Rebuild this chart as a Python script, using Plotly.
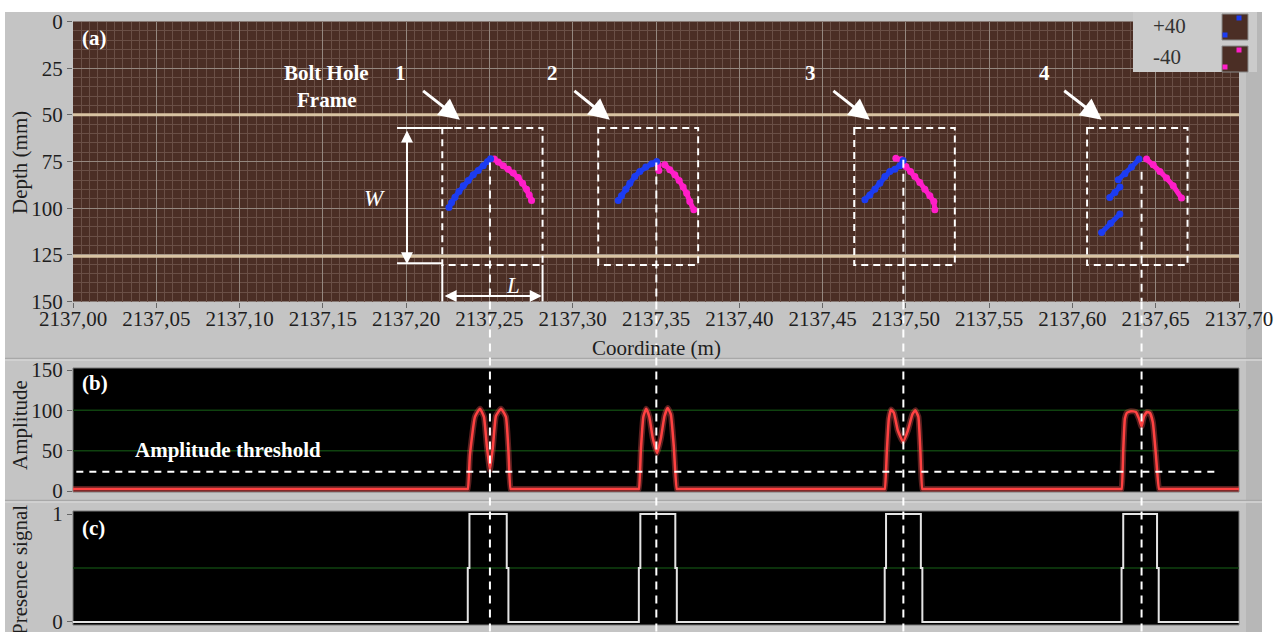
import plotly.graph_objects as go

FIG_W, FIG_H = 1279, 632

# ---------------- data ----------------
coord_ticks = [2137.00, 2137.05, 2137.10, 2137.15, 2137.20, 2137.25, 2137.30, 2137.35,
               2137.40, 2137.45, 2137.50, 2137.55, 2137.60, 2137.65, 2137.70]
coord_labels = ["2137,00", "2137,05", "2137,10", "2137,15", "2137,20", "2137,25", "2137,30",
                "2137,35", "2137,40", "2137,45", "2137,50", "2137,55", "2137,60", "2137,65",
                "2137,70"]
depth_ticks = [0, 25, 50, 75, 100, 125, 150]
amp_ticks = [0, 50, 100, 150]
presence_ticks = [0, 1]

# rail reference lines (mm)
rail_depths = [50, 125.7]

# B-scan echoes: +40 probe (blue) and -40 probe (magenta), coordinate (m) / depth (mm)
hole1_blue_x = [2137.2257, 2137.2273, 2137.2293, 2137.2317, 2137.2343, 2137.2373, 2137.2403,
                2137.2433, 2137.2463, 2137.2489, 2137.2507]
hole1_blue_d = [99.7, 97.0, 94.1, 91.1, 88.0, 85.2, 82.1, 79.8, 77.3, 75.0, 73.5]
hole1_pink_x = [2137.2529, 2137.2553, 2137.2583, 2137.2613, 2137.2643, 2137.2673, 2137.2699,
                2137.2723, 2137.2739, 2137.2753]
hole1_pink_d = [73.7, 75.3, 77.3, 79.1, 81.2, 83.6, 86.6, 89.8, 92.9, 95.9]

hole2_blue_x = [2137.3273, 2137.3293, 2137.3319, 2137.3343, 2137.3373, 2137.3403, 2137.3439,
                2137.3474, 2137.3504]
hole2_blue_d = [95.9, 93.4, 89.8, 86.6, 83.0, 80.3, 78.0, 76.2, 75.0]
hole2_pink_x = [2137.3513, 2137.3517, None, 2137.3553, 2137.3583, 2137.3613, 2137.3639,
                2137.3663, 2137.3684, 2137.3703, 2137.3727]
hole2_pink_d = [76.8, 79.8, None, 76.8, 79.4, 82.1, 85.2, 88.7, 92.0, 96.4, 100.9]

hole3_blue_x = [2137.4754, 2137.4784, 2137.4814, 2137.4844, 2137.4874, 2137.4904, 2137.4934,
                2137.4964, 2137.4984]
hole3_blue_d = [95.5, 92.9, 89.8, 86.6, 83.0, 80.3, 79.1, 77.3, 74.4]
hole3_pink_x = [2137.4940, 2137.4974, 2137.5000, 2137.5028, 2137.5054, 2137.5084, 2137.5114,
                2137.5144, 2137.5168, 2137.5174]
hole3_pink_d = [73.2, 74.1, 77.7, 80.3, 83.0, 86.3, 89.8, 93.4, 96.4, 100.9]

hole4_blue_x = [2137.6175, 2137.6229, 2137.6285, None, 2137.6224, 2137.6255, 2137.6285, None,
                2137.6275, 2137.6315, 2137.6355, 2137.6400]
hole4_blue_d = [113.1, 108.1, 103.1, None, 94.3, 91.6, 88.7, None, 84.8, 81.6, 78.0, 73.7]
hole4_pink_x = [2137.6445, 2137.6485, 2137.6525, 2137.6565, 2137.6605, 2137.6655]
hole4_pink_d = [73.7, 76.8, 80.3, 83.9, 88.0, 94.6]

# bolt-hole frames (m / mm)
frame_left = [2137.2217, 2137.3153, 2137.4690, 2137.6088]
frame_right = [2137.2819, 2137.3753, 2137.5294, 2137.6691]
frame_top = 57.1
frame_bottom = 130.4
hole_center = [2137.2503, 2137.3502, 2137.4985, 2137.6415]
apex_depth = [75.5, 75.5, 74.0, 80.5]
hole_numbers = ["1", "2", "3", "4"]
number_coord = [2137.1969, 2137.2881, 2137.4430, 2137.5834]
arrow_tail = [2137.2093, 2137.3001, 2137.4556, 2137.5942]
arrow_tip = [2137.2323, 2137.3223, 2137.4784, 2137.6176]

# amplitude envelope
amp_coord = [2137.000,
             2137.2360, 2137.2370, 2137.2383, 2137.2413, 2137.2443, 2137.2467, 2137.2485,
             2137.2503, 2137.2521, 2137.2539, 2137.2569, 2137.2599, 2137.2614, 2137.2627,
             2137.2637,
             2137.3387, 2137.3397, 2137.3409, 2137.3424, 2137.3441, 2137.3460, 2137.3481,
             2137.3507, 2137.3529, 2137.3551, 2137.3570, 2137.3589, 2137.3607, 2137.3625,
             2137.3635,
             2137.4863, 2137.4873, 2137.4886, 2137.4898, 2137.4911, 2137.4928, 2137.4952,
             2137.4983, 2137.5012, 2137.5039, 2137.5057, 2137.5075, 2137.5087, 2137.5099,
             2137.5109,
             2137.6285, 2137.6295, 2137.6305, 2137.6315, 2137.6327, 2137.6351, 2137.6381,
             2137.6399, 2137.6415, 2137.6429, 2137.6447, 2137.6465, 2137.6483, 2137.6501,
             2137.6520, 2137.6530,
             2137.700]
amp_value = [2.5,
             2.5, 2.5, 45, 92, 102, 92, 55, 26, 55, 93, 102, 92, 50, 2.5, 2.5,
             2.5, 2.5, 50, 92, 102, 92, 65, 47, 65, 93, 103, 95, 55, 2.5, 2.5,
             2.5, 2.5, 50, 90, 101, 97, 75, 61, 75, 95, 100, 92, 50, 2.5, 2.5,
             2.5, 2.5, 50, 90, 97, 99, 98, 90, 80, 92, 98, 97, 85, 45, 2.5, 2.5,
             2.5]
amp_threshold = 24
threshold_span = [2137.002, 2137.687]

# presence signal edges (m)
rise_lo = [2137.2370, 2137.3397, 2137.4873, 2137.6295]
rise_hi = [2137.2380, 2137.3406, 2137.4881, 2137.6305]
fall_hi = [2137.2604, 2137.3616, 2137.5090, 2137.6508]
fall_lo = [2137.2614, 2137.3625, 2137.5099, 2137.6518]

# ---------------- styling ----------------
SERIF = "Liberation Serif, Times New Roman, serif"
BLUE = "#1c3cf2"
PINK = "#ff1ec8"
BROWN = "#4b2e25"
GRID_MAJOR = "#94877f"
GRID_MINOR = "#6a4f46"
FRAME = "#c4c4c4"
TAN = "#d8c3a2"
TEXT = "#1e1e1e"


def px(x):
    return x / FIG_W


def py(y):
    return 1 - y / FIG_H


X_DOM = [px(73), px(1239)]
A_DOM = [py(301.5), py(21.5)]
B_DOM = [py(492), py(368)]
C_DOM = [py(625), py(511)]
X_RANGE = [2137.0, 2137.7]


def join(*parts):
    out = []
    for i, p in enumerate(parts):
        if i:
            out.append(None)
        out.extend(p)
    return out


blue_x = join(hole1_blue_x, hole2_blue_x, hole3_blue_x, hole4_blue_x)
blue_d = join(hole1_blue_d, hole2_blue_d, hole3_blue_d, hole4_blue_d)
pink_x = join(hole1_pink_x, hole2_pink_x, hole3_pink_x, hole4_pink_x)
pink_d = join(hole1_pink_d, hole2_pink_d, hole3_pink_d, hole4_pink_d)

pres_x, pres_y = [X_RANGE[0]], [0]
for a, b, c, d in zip(rise_lo, rise_hi, fall_hi, fall_lo):
    pres_x += [a, a, b, b, c, c, d, d]
    pres_y += [0, 0.5, 0.5, 1, 1, 0.5, 0.5, 0]
pres_x.append(X_RANGE[1])
pres_y.append(0)

fig = go.Figure()

# (a) B-scan
fig.add_trace(go.Scatter(x=pink_x, y=pink_d, mode="lines+markers", xaxis="x", yaxis="y",
                         line=dict(color=PINK, width=5),
                         marker=dict(color=PINK, size=7, symbol="circle"),
                         hoverinfo="skip"))
fig.add_trace(go.Scatter(x=blue_x, y=blue_d, mode="lines+markers", xaxis="x", yaxis="y",
                         line=dict(color=BLUE, width=5),
                         marker=dict(color=BLUE, size=7, symbol="circle"),
                         hoverinfo="skip"))

# (b) amplitude (soft halo + core line)
fig.add_trace(go.Scatter(x=amp_coord, y=amp_value, mode="lines", xaxis="x2", yaxis="y2",
                         line=dict(color="rgba(255,90,90,0.35)", width=6, shape="spline",
                                   smoothing=0.4),
                         hoverinfo="skip"))
fig.add_trace(go.Scatter(x=amp_coord, y=amp_value, mode="lines", xaxis="x2", yaxis="y2",
                         line=dict(color="#ff4242", width=2.5, shape="spline", smoothing=0.4),
                         hoverinfo="skip"))

# (c) presence signal
fig.add_trace(go.Scatter(x=pres_x, y=pres_y, mode="lines", xaxis="x3", yaxis="y3",
                         line=dict(color="#e4e4e4", width=2), hoverinfo="skip"))

tickfont = dict(family=SERIF, size=21, color=TEXT)

shapes = []
# panel frames
shapes.append(dict(type="rect", xref="paper", yref="paper", x0=px(5), x1=px(1262),
                   y0=py(632), y1=py(12), fillcolor=FRAME, line_width=0, layer="below"))
shapes.append(dict(type="rect", xref="paper", yref="paper", x0=px(1246), x1=px(1262),
                   y0=py(632), y1=py(12), fillcolor="#b7b7b7", line_width=0, layer="below"))
for ys, col in [(358.5, "#a8a8a8"), (360, "#d6d6d6"), (500.5, "#a8a8a8"), (502, "#d6d6d6")]:
    shapes.append(dict(type="line", xref="paper", yref="paper", x0=px(5), x1=px(1262),
                       y0=py(ys), y1=py(ys), line=dict(color=col, width=1.5), layer="below"))
# plot backgrounds
shapes.append(dict(type="rect", xref="x domain", yref="y domain", x0=0, x1=1, y0=0, y1=1,
                   fillcolor=BROWN, line_width=0, layer="below"))
for ax in ["2", "3"]:
    shapes.append(dict(type="rect", xref=f"x{ax} domain", yref=f"y{ax} domain", x0=0, x1=1,
                       y0=0, y1=1, fillcolor="#000000",
                       line=dict(color="#7a7a7a", width=1), layer="below"))
# green grid lines in (b) and (c)
for v in [50, 100]:
    shapes.append(dict(type="line", xref="x2 domain", yref="y2", x0=0, x1=1, y0=v, y1=v,
                       line=dict(color="#0f420f", width=1.5), layer="below"))
shapes.append(dict(type="line", xref="x3 domain", yref="y3", x0=0, x1=1, y0=0.5, y1=0.5,
                   line=dict(color="#0f420f", width=1.5), layer="below"))

# rail reference lines
for d in rail_depths:
    shapes.append(dict(type="line", xref="x domain", yref="y", x0=0, x1=1, y0=d, y1=d,
                       line=dict(color=TAN, width=3), layer="above"))

# bolt-hole frames
for l, r in zip(frame_left, frame_right):
    shapes.append(dict(type="rect", xref="x", yref="y", x0=l, x1=r, y0=frame_top,
                       y1=frame_bottom, line=dict(color="white", width=2, dash="7px,5px"),
                       fillcolor="rgba(0,0,0,0)", layer="above"))

# hole centre lines through all panels
for c, d in zip(hole_center, apex_depth):
    shapes.append(dict(type="line", xref="x", yref="y", x0=c, x1=c, y0=d, y1=150,
                       line=dict(color="white", width=2, dash="8px,6px"), layer="above"))
    shapes.append(dict(type="line", xref="x", yref="paper", x0=c, x1=c, y0=A_DOM[0], y1=0,
                       line=dict(color="white", width=2, dash="8px,6px"), layer="above"))

# amplitude threshold
shapes.append(dict(type="line", xref="x2", yref="y2", x0=threshold_span[0],
                   x1=threshold_span[1], y0=amp_threshold, y1=amp_threshold,
                   line=dict(color="white", width=2, dash="7px,6px"), layer="above"))

# W and L extension lines
W_X = 2137.2005
shapes.append(dict(type="line", xref="x", yref="y", x0=2137.1945, x1=2137.2281,
                   y0=frame_top, y1=frame_top, line=dict(color="white", width=2)))
shapes.append(dict(type="line", xref="x", yref="y", x0=2137.1945, x1=frame_left[0],
                   y0=129.5, y1=129.5, line=dict(color="white", width=2)))
for xe in [frame_left[0], frame_right[0]]:
    shapes.append(dict(type="line", xref="x", yref="y", x0=xe, x1=xe, y0=frame_bottom,
                       y1=151, line=dict(color="white", width=2)))

# legend panel
shapes.append(dict(type="rect", xref="paper", yref="paper", x0=px(1133), x1=px(1257),
                   y0=py(72), y1=py(12), fillcolor="#cbcbcb", line_width=0, layer="above"))
for top, col in [(14, BLUE), (46, PINK)]:
    shapes.append(dict(type="rect", xref="paper", yref="paper", x0=px(1222), x1=px(1248),
                       y0=py(top + 26), y1=py(top), fillcolor=BROWN,
                       line=dict(color="#8a8a8a", width=1), layer="above"))
    for cx, cy in [(1239, top + 4), (1225, top + 21)]:
        shapes.append(dict(type="rect", xref="paper", yref="paper", x0=px(cx - 2.5),
                           x1=px(cx + 2.5), y0=py(cy + 2.5), y1=py(cy - 2.5),
                           fillcolor=col, line_width=0, layer="above"))

annotations = []
bold = dict(family=SERIF, size=21, color="white")


def label(text, x, y, xref, yref, font, xanchor="center", yanchor="middle", **kw):
    annotations.append(dict(text=text, x=x, y=y, xref=xref, yref=yref, showarrow=False,
                            font=font, xanchor=xanchor, yanchor=yanchor, **kw))


label("<b>(a)</b>", px(80), py(38), "paper", "paper", bold, xanchor="left")
label("<b>(b)</b>", px(80), py(383), "paper", "paper", bold, xanchor="left")
label("<b>(c)</b>", px(80), py(528), "paper", "paper", bold, xanchor="left")
label("<b>Bolt Hole</b>", 2137.1519, 27.4, "x", "y", bold)
label("<b>Frame</b>", 2137.1519, 42.0, "x", "y", bold)
for t, c in zip(hole_numbers, number_coord):
    label(f"<b>{t}</b>", c, 27.4, "x", "y", bold)
label("<b>Amplitude threshold</b>", 2137.0930, 51, "x2", "y2", bold)
label("<i>W</i>", 2137.1810, 95, "x", "y", dict(family=SERIF, size=23, color="white"))
label("<i>L</i>", 2137.2640, 141.5, "x", "y", dict(family=SERIF, size=23, color="white"))

# pointing arrows
for tail, tip in zip(arrow_tail, arrow_tip):
    annotations.append(dict(text="", x=tip, y=52.6, ax=tail, ay=36.5, xref="x", yref="y",
                            axref="x", ayref="y", showarrow=True, arrowhead=2,
                            arrowsize=1.4, arrowwidth=3, arrowcolor="white"))
# W and L dimension arrows
annotations.append(dict(text="", x=W_X, y=130.0, ax=W_X, ay=57.6, xref="x", yref="y",
                        axref="x", ayref="y", showarrow=True, arrowhead=2, arrowside="end+start",
                        arrowsize=1.2, arrowwidth=2, arrowcolor="white"))
annotations.append(dict(text="", x=frame_right[0] - 0.0005, y=147, ax=frame_left[0] + 0.0005,
                        ay=147, xref="x", yref="y", axref="x", ayref="y", showarrow=True,
                        arrowhead=2, arrowside="end+start", arrowsize=1.2, arrowwidth=2,
                        arrowcolor="white"))

# axis titles
title_font = dict(family=SERIF, size=21, color=TEXT)
label("Depth (mm)", px(20), py(163), "paper", "paper", title_font, textangle=-90)
label("Coordinate (m)", px(656), py(348), "paper", "paper", title_font)
label("Amplitude", px(20), py(425), "paper", "paper", title_font, textangle=-90)
label("Presence signal", px(20), py(570), "paper", "paper", title_font, textangle=-90)

# legend text
legend_font = dict(family=SERIF, size=21, color="#333333")
label("+40", px(1151), py(26), "paper", "paper", legend_font, xanchor="left")
label("-40", px(1151), py(57), "paper", "paper", legend_font, xanchor="left")

fig.update_layout(
    width=FIG_W, height=FIG_H, autosize=False,
    margin=dict(l=0, r=0, t=0, b=0, autoexpand=False),
    paper_bgcolor="white", plot_bgcolor="rgba(0,0,0,0)",
    showlegend=False,
    xaxis=dict(domain=X_DOM, range=X_RANGE, anchor="y", tickmode="array", automargin=False,
               tickvals=coord_ticks, ticktext=coord_labels, ticks="outside", ticklen=5,
               tickcolor="#666666", tickfont=tickfont, showgrid=True, ticklabelstandoff=-7,
               gridcolor=GRID_MAJOR, gridwidth=1, zeroline=False, showline=False,
               ticklabeloverflow="allow",
               minor=dict(tickmode="linear", tick0=2137.0, dtick=0.005, showgrid=True,
                          gridcolor=GRID_MINOR, gridwidth=1, ticks="")),
    yaxis=dict(domain=A_DOM, range=[150, 0], anchor="x", tickmode="array", automargin=False,
               tickvals=depth_ticks, ticks="outside", ticklen=5, tickcolor="#666666",
               tickfont=tickfont, showgrid=True, gridcolor=GRID_MAJOR, gridwidth=1,
               zeroline=False, showline=False, ticklabeloverflow="allow",
               minor=dict(tickmode="linear", tick0=0, dtick=5, showgrid=True,
                          gridcolor=GRID_MINOR, gridwidth=1, ticks="")),
    xaxis2=dict(domain=X_DOM, range=X_RANGE, anchor="y2", showticklabels=False, ticks="",
                showgrid=False, zeroline=False, showline=False, automargin=False),
    yaxis2=dict(domain=B_DOM, range=[-1.24, 152.5], anchor="x2", tickmode="array",
                tickvals=amp_ticks, ticks="outside", ticklen=5, tickcolor="#666666",
                tickfont=tickfont, showgrid=False, zeroline=False, showline=False,
                automargin=False, ticklabeloverflow="allow"),
    xaxis3=dict(domain=X_DOM, range=X_RANGE, anchor="y3", showticklabels=False, ticks="",
                showgrid=False, zeroline=False, showline=False, automargin=False),
    yaxis3=dict(domain=C_DOM, range=[-0.028, 1.028], anchor="x3", tickmode="array",
                tickvals=presence_ticks, ticks="outside", ticklen=5, tickcolor="#666666",
                tickfont=tickfont, showgrid=False, zeroline=False, showline=False,
                automargin=False, ticklabeloverflow="allow"),
    shapes=shapes,
    annotations=annotations,
)

fig.write_html("out.html")
